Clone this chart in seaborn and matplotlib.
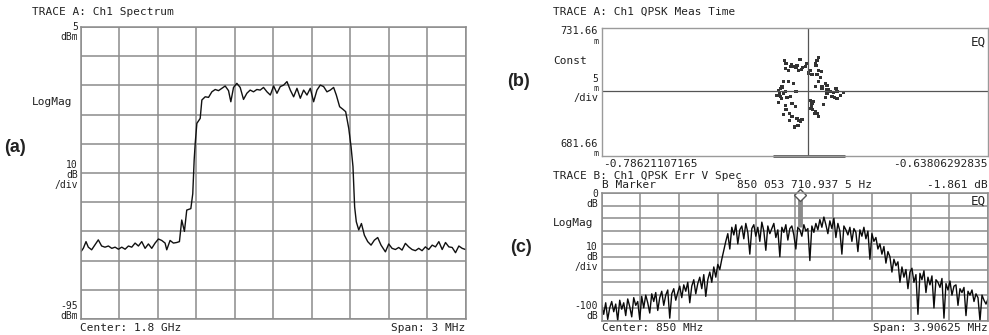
import numpy as np
import pandas as pd
import matplotlib
matplotlib.use("Agg")
import matplotlib.pyplot as plt
import seaborn as sns

# (a) channel spectrum: offset from 1.8 GHz centre (MHz), level (dBm)
spec_freq = [-1.500, -1.482, -1.461, -1.443, -1.417, -1.391, -1.365, -1.339, -1.313, -1.286,
             -1.260, -1.234, -1.208, -1.182, -1.156, -1.130, -1.104, -1.078, -1.052, -1.026,
             -1.000, -0.974, -0.948, -0.922, -0.896, -0.870, -0.844, -0.831, -0.805, -0.779,
             -0.753, -0.732, -0.714, -0.693, -0.675, -0.643, -0.628, -0.617,
             -0.609, -0.596, -0.570, -0.557, -0.531, -0.505, -0.479, -0.453, -0.427, -0.401,
             -0.375, -0.349, -0.331, -0.310, -0.284, -0.258, -0.232, -0.206, -0.180, -0.154,
             -0.128, -0.102, -0.076, -0.049, -0.023, 0.003, 0.029, 0.055, 0.081, 0.107,
             0.133, 0.159, 0.185, 0.211, 0.237, 0.263, 0.289, 0.315, 0.341, 0.367,
             0.393, 0.419,
             0.445, 0.471, 0.492, 0.518, 0.544, 0.565, 0.589, 0.607, 0.622, 0.635,
             0.648, 0.667, 0.688, 0.711, 0.737, 0.763, 0.789, 0.815, 0.841, 0.875,
             0.901, 0.927, 0.953, 0.979, 1.005, 1.031, 1.057, 1.083, 1.109, 1.135,
             1.161, 1.187, 1.213, 1.240, 1.266, 1.292, 1.318, 1.344, 1.370, 1.396,
             1.422, 1.448, 1.474, 1.500]
spec_level = [-71.9, -70.8, -68.5, -70.4, -71.3, -69.6, -67.9, -70.0, -70.4, -70.0,
              -70.8, -70.4, -71.1, -70.4, -71.1, -70.0, -70.4, -69.0, -70.0, -68.5,
              -70.8, -69.3, -70.8, -69.0, -67.6, -68.1, -69.0, -71.3, -68.1, -69.0,
              -68.8, -68.5, -61.1, -65.0, -57.7, -57.2, -52.1, -40.5,
              -34.9, -28.0, -26.3, -20.0, -18.9, -19.1, -17.2, -16.4, -16.8, -16.0,
              -15.2, -16.8, -20.6, -15.7, -14.3, -15.7, -19.8, -17.7, -16.6, -17.2,
              -16.4, -16.6, -15.7, -17.2, -18.3, -15.2, -17.7, -15.4, -14.9, -13.7,
              -16.6, -18.9, -16.0, -19.4, -16.6, -18.3, -16.0, -20.6, -16.6, -14.9,
              -15.4, -17.2,
              -16.6, -15.7, -18.3, -22.3, -23.2, -24.0, -29.7, -36.0, -42.8, -56.6,
              -61.7, -64.5, -62.3, -66.3, -68.5, -69.7, -68.0, -67.1, -69.7, -72.0,
              -69.3, -70.8, -71.2, -70.5, -71.4, -69.1, -70.3, -71.2, -71.6, -70.8,
              -71.6, -70.3, -71.2, -69.7, -70.3, -68.5, -71.2, -68.8, -70.3, -70.5,
              -72.3, -70.0, -70.8, -71.2]

# (b) QPSK constellation, I and Q (Q in milli units)
const_i = [-0.71605, -0.71349, -0.71387, -0.71260, -0.71170, -0.71017, -0.71068, -0.70966,
           -0.70812, -0.70621, -0.70429, -0.70365, -0.70301, -0.70403, -0.70557, -0.70301,
           -0.70199, -0.71451, -0.71579, -0.71553, -0.70684, -0.70365, -0.70748, -0.71132,
           -0.70914,
           -0.71643, -0.71451, -0.71260, -0.71707, -0.71771, -0.71835, -0.71809, -0.71771,
           -0.71732, -0.71643, -0.71579, -0.71515, -0.71387, -0.71170, -0.71323, -0.71579,
           -0.71835, -0.71681, -0.71899,
           -0.70301, -0.70173, -0.70045, -0.69982, -0.69918, -0.69854, -0.69790, -0.69726,
           -0.69637, -0.69598, -0.69470, -0.69343, -0.69598, -0.69688, -0.69982, -0.70045,
           -0.70109, -0.70173, -0.70429, -0.70237, -0.70007,
           -0.70621, -0.70557, -0.70493, -0.70582, -0.70531, -0.70429, -0.70365, -0.70454,
           -0.70621, -0.70301,
           -0.71553, -0.71426, -0.71323, -0.71196, -0.71132, -0.71068, -0.71004, -0.70940,
           -0.71093, -0.71426, -0.71643, -0.71221]
const_q = [718.8, 717.5, 716.5, 716.7, 716.2, 719.3, 715.2, 715.4,
           716.7, 714.9, 717.8, 719.1, 720.1, 717.1, 713.6, 715.2,
           714.5, 714.9, 715.8, 717.8, 714.1, 713.6, 717.8, 717.1,
           716.2,
           710.6, 710.6, 710.0, 708.9, 708.0, 707.1, 706.1, 705.0,
           704.1, 706.1, 706.7, 704.5, 704.8, 706.7, 702.1, 701.5,
           702.4, 708.4, 705.4,
           710.6, 708.9, 710.0, 709.3, 707.6, 706.7, 704.8, 706.3,
           708.0, 706.7, 705.4, 706.3, 704.1, 704.5, 706.1, 704.5,
           701.9, 708.0, 708.7, 712.3, 707.6,
           703.5, 702.1, 702.8, 700.9, 699.8, 698.9, 698.2, 698.2,
           700.2, 697.0,
           699.8, 698.2, 697.0, 700.9, 696.3, 695.6, 695.0, 695.9,
           693.7, 695.4, 698.0, 693.0]
ideal_i, ideal_q = -0.70711, 707.11
sym_bar = (-0.72052, -0.69290)

# (c) error vector spectrum, swept 848.046875 .. 851.953125 MHz (dB)
err_level = [-88, -95, -86, -99, -90, -85, -93, -87, -100, -84, -91, -86, -96, -83, -89, -97, -82, -88, -85, -99,
             -81, -90, -80, -86, -94, -79, -85, -78, -92, -82, -77, -88, -80, -76, -98, -79, -75, -84, -78, -73,
             -82, -72, -77, -70, -86, -73, -68, -79, -71, -66, -75, -64, -81, -68, -62, -70, -58, -66,
             -56, -60, -52, -45, -38, -32, -44,
             -27, -33, -25, -40, -29, -26, -36, -24, -31, -48, -28, -25, -34, -27, -38, -23, -30, -45, -26, -32,
             -28, -24, -35, -29, -50, -27, -31, -25, -37, -28, -26, -33, -44, -27, -29, -34, -25, -30, -28, -53,
             -26, -31, -24, -29, -21, -27, -19, -25, -32, -22, -28, -20, -35, -24, -30, -48, -26, -29, -33, -27,
             -38, -28, -31, -46, -29, -34, -27, -36, -30, -52,
             -32, -38, -35, -44, -40, -48, -42, -55, -46, -50, -62, -52, -57, -54, -70,
             -58, -66, -60, -75, -62, -59, -70, -64, -95, -63, -68, -61, -78, -66, -72, -65, -90, -68, -70, -74,
             -67, -98, -71, -76, -69, -80, -73, -72, -88, -75, -78, -74, -96, -77, -80, -76, -85, -79, -82, -100,
             -80, -84, -87, -83]
err_start, err_stop = 848.046875, 851.953125
marker_freq, marker_level = 850.0537109375, -1.861

spec = pd.DataFrame({"freq": spec_freq, "level": spec_level})
const = pd.DataFrame({"I": const_i, "Q": const_q})
err = pd.DataFrame({"freq": np.linspace(err_start, err_stop, len(err_level)), "level": err_level})

sns.set_style("white")
plt.rcParams["font.family"] = ["DejaVu Sans Mono"]

W, H = 989, 335
fig = plt.figure(figsize=(W / 100, H / 100), dpi=100)
GRID = "#8c8c8c"
INK = "#222222"


def box(l, t, r, b):
    return fig.add_axes([l / W, 1 - b / H, (r - l) / W, (b - t) / H])


def txt(x, y, s, ha="left", size=8, **kw):
    fig.text(x / W, 1 - y / H, s, ha=ha, va="center", fontsize=size, color=INK, **kw)


def screen(ax, xt, yt, col=GRID):
    ax.set_xticks(xt)
    ax.set_yticks(yt)
    ax.set_xlim(xt[0], xt[-1])
    ax.set_ylim(yt[0], yt[-1])
    ax.tick_params(length=0, labelbottom=False, labelleft=False)
    ax.grid(True, color=col, lw=1.1)
    for s in ax.spines.values():
        s.set_color(col)
        s.set_linewidth(1.1)
    ax.set_xlabel("")
    ax.set_ylabel("")


# ---- (a)
ax_a = box(81, 27, 465.5, 319)
sns.lineplot(data=spec, x="freq", y="level", ax=ax_a, color="#111111", lw=1.0,
             estimator=None, sort=False)
screen(ax_a, np.linspace(-1.5, 1.5, 11), np.arange(-95, 6, 10))

txt(32, 12, "TRACE A: Ch1 Spectrum")
txt(78, 27, "5", ha="right", size=7)
txt(78, 37, "dBm", ha="right", size=7)
txt(32, 102, "LogMag")
txt(78, 165, "10", ha="right", size=7)
txt(78, 175, "dB", ha="right", size=7)
txt(78, 185, "/div", ha="right", size=7)
txt(78, 306, "-95", ha="right", size=7)
txt(78, 316, "dBm", ha="right", size=7)
txt(80, 328, "Center: 1.8 GHz")
txt(465, 328, "Span: 3 MHz", ha="right")
txt(4, 147, "(a)", size=13, weight="bold", family="Liberation Sans")

# ---- (b)
ax_b = box(601.7, 28, 988, 156)
sns.scatterplot(data=const, x="I", y="Q", ax=ax_b, color="#333333", marker="s", s=5,
                edgecolor="none")
ax_b.set_xlim(-0.78621107165, -0.63806292835)
ax_b.set_ylim(681.66, 731.66)
ax_b.set_xticks([])
ax_b.set_yticks([])
ax_b.set_xlabel("")
ax_b.set_ylabel("")
for s in ax_b.spines.values():
    s.set_color("#9a9a9a")
    s.set_linewidth(1.0)
ax_b.axvline(ideal_i, color="#555555", lw=0.9)
ax_b.axhline(ideal_q, color="#555555", lw=0.9)
ax_b.plot(sym_bar, [681.66, 681.66], color="#555555", lw=2.0, clip_on=False,
          solid_capstyle="butt")
ax_b.text(0.995, 0.94, "EQ", transform=ax_b.transAxes, ha="right", va="top",
          fontsize=9, color=INK)

txt(553, 12, "TRACE A: Ch1 QPSK Meas Time")
txt(598, 31, "731.66", ha="right", size=7.5)
txt(598, 41, "m", ha="right", size=6)
txt(553, 61, "Const")
txt(598, 79, "5", ha="right", size=7)
txt(598, 88.5, "m", ha="right", size=6)
txt(598, 98, "/div", ha="right", size=7.5)
txt(598, 144, "681.66", ha="right", size=7.5)
txt(598, 154, "m", ha="right", size=6)
txt(603, 164, "-0.78621107165")
txt(988, 164, "-0.63806292835", ha="right")
txt(507, 82, "(b)", size=13, weight="bold", family="Liberation Sans")

# ---- (c)
ax_c = box(601.7, 192.7, 988, 320.7)
sns.lineplot(data=err, x="freq", y="level", ax=ax_c, color="#0a0a0a", lw=1.0,
             estimator=None, sort=False)
screen(ax_c, np.linspace(err_start, err_stop, 11), np.arange(-100, 1, 10))
ax_c.vlines(marker_freq, -27, -3.5, color="#8a8a8a", lw=3.5)
ax_c.plot([marker_freq], [marker_level], marker="D", ms=6, mfc="white", mec="#555555",
          mew=1.0, clip_on=False)
ax_c.text(0.995, 0.985, "EQ", transform=ax_c.transAxes, ha="right", va="top",
          fontsize=9, color=INK)

txt(553, 176, "TRACE B: Ch1 QPSK Err V Spec")
txt(602, 185, "B Marker")
txt(737, 185, "850 053 710.937 5 Hz")
txt(988, 185, "-1.861 dB", ha="right")
txt(598, 194, "0", ha="right", size=7)
txt(598, 204, "dB", ha="right", size=7)
txt(553, 223, "LogMag")
txt(598, 247, "10", ha="right", size=7)
txt(598, 257, "dB", ha="right", size=7)
txt(598, 267, "/div", ha="right", size=7)
txt(598, 306, "-100", ha="right", size=7)
txt(598, 316, "dB", ha="right", size=7)
txt(602, 328, "Center: 850 MHz")
txt(988, 328, "Span: 3.90625 MHz", ha="right")
txt(510, 248, "(c)", size=13, weight="bold", family="Liberation Sans")

fig.savefig("out.png", dpi=100, facecolor="white")
